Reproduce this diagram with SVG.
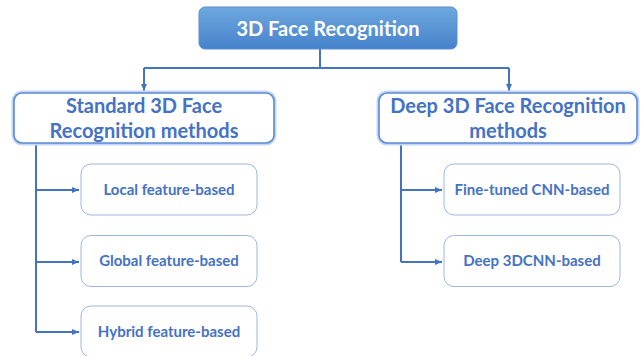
<svg xmlns="http://www.w3.org/2000/svg" width="644" height="356" viewBox="0 0 644 356">
<style>
.t{font-family:Lato,"Liberation Sans",sans-serif;font-weight:bold;text-anchor:middle}
.big{font-size:20px;fill:#4472c4}
.small{font-size:15px;fill:#4472c4}
.glow{fill:none;stroke:#c5d6f2;stroke-width:5}
.frame{fill:#fff;stroke:#5a8ad6;stroke-width:1.6}
.child{fill:#fff;stroke:#9db6e2;stroke-width:1}
.conn{fill:none;stroke:#4472c4;stroke-width:2}
</style>
<defs>
<linearGradient id="g" x1="0" y1="0" x2="0" y2="1">
<stop offset="0" stop-color="#6ea8df"/>
<stop offset="1" stop-color="#4682cb"/>
</linearGradient>
<marker id="a" markerWidth="8" markerHeight="8" refX="7" refY="4" orient="auto" markerUnits="userSpaceOnUse">
<path d="M0,1 L7,4 L0,7 Z" fill="#4472c4"/>
</marker>
</defs>
<rect width="644" height="356" fill="#fff"/>
<g id="connectors">
<path class="conn" d="M320,49 V68"/>
<path class="conn" d="M144,68 H509"/>
<path class="conn" d="M144,68 V91" marker-end="url(#a)"/>
<path class="conn" d="M509,68 V91" marker-end="url(#a)"/>
<path class="conn" d="M36,144 V332"/>
<path class="conn" d="M36,190 H79" marker-end="url(#a)"/>
<path class="conn" d="M36,262 H79" marker-end="url(#a)"/>
<path class="conn" d="M36,332 H79" marker-end="url(#a)"/>
<path class="conn" d="M401,143 V262"/>
<path class="conn" d="M401,190 H442" marker-end="url(#a)"/>
<path class="conn" d="M401,262 H442" marker-end="url(#a)"/>
</g>
<g id="root">
<rect x="199" y="7" width="258" height="42" rx="6" fill="url(#g)" stroke="#5b8fd3" stroke-width="1"/>
<text class="t" x="328" y="36" font-size="20" fill="#fff">3D Face Recognition</text>
</g>
<g id="standard">
<rect class="glow" x="14" y="93" width="260" height="50" rx="8"/>
<rect class="frame" x="14" y="93" width="260" height="50" rx="8"/>
<text class="t big" x="144" y="113">Standard 3D Face</text>
<text class="t big" x="144" y="138">Recognition methods</text>
</g>
<g id="deep">
<rect class="glow" x="379" y="93" width="258" height="50" rx="8"/>
<rect class="frame" x="379" y="93" width="258" height="50" rx="8"/>
<text class="t big" x="508" y="113">Deep 3D Face Recognition</text>
<text class="t big" x="508" y="138">methods</text>
</g>
<g id="local">
<rect class="child" x="81" y="164" width="176" height="51" rx="10"/>
<text class="t small" x="169" y="195">Local feature-based</text>
</g>
<g id="global">
<rect class="child" x="81" y="235.5" width="176" height="51" rx="10"/>
<text class="t small" x="169" y="266">Global feature-based</text>
</g>
<g id="hybrid">
<rect class="child" x="81" y="306" width="176" height="51" rx="10"/>
<text class="t small" x="169" y="337">Hybrid feature-based</text>
</g>
<g id="finetuned">
<rect class="child" x="444" y="164" width="176" height="51" rx="10"/>
<text class="t small" x="532" y="195">Fine-tuned CNN-based</text>
</g>
<g id="deep3dcnn">
<rect class="child" x="444" y="235.5" width="176" height="51" rx="10"/>
<text class="t small" x="532" y="266">Deep 3DCNN-based</text>
</g>
</svg>
